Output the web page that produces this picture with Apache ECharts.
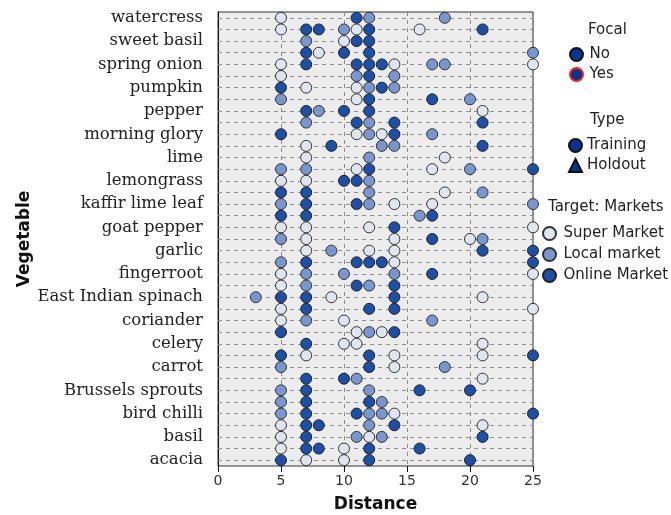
<!DOCTYPE html>
<html>
<head>
<meta charset="utf-8">
<script src="https://cdn.jsdelivr.net/npm/echarts@6/dist/echarts.min.js"></script>
<style>
  html, body { margin: 0; padding: 0; background: #fff; }
  #chart { width: 671px; height: 515px; }
</style>
</head>
<body>
<div id="chart"></div>
<script>
// labelled rows, top to bottom (every other row carries a label)
var labels = ["watercress", "sweet basil", "spring onion", "pumpkin", "pepper",
  "morning glory", "lime", "lemongrass", "kaffir lime leaf", "goat pepper",
  "garlic", "fingerroot", "East Indian spinach", "coriander", "celery",
  "carrot", "Brussels sprouts", "bird chilli", "basil", "acacia"];

// distances per row (row 0 = top), one list per market
var superRows = [
  [5], [5, 11, 16], [10], [8], [5, 14, 25], [5], [7, 11], [11], [21], [],
  [11, 13], [7], [7, 18], [11, 17], [5, 7], [18], [14, 17], [], [5, 7, 12, 25], [7, 14, 20],
  [7, 12, 14], [14], [5, 25], [5], [9, 21], [5, 25], [5, 10], [11, 13], [10, 11, 21], [7, 14, 21],
  [14], [21], [], [], [14], [5, 21], [5, 12], [5, 10], [7, 10]
];
var localRows = [
  [12, 18], [10], [7], [25], [17, 18], [11, 14], [12, 14], [5, 20], [8], [7, 12],
  [12, 17], [13, 14], [12], [5, 7, 20], [12], [12, 21], [5, 12, 25], [16], [], [5, 21],
  [9], [5], [7, 10, 14], [7, 12], [3], [], [7, 17], [12], [], [],
  [5, 18], [11], [5, 12], [5, 13], [5, 12, 13], [12], [11, 13], [], []
];
var onlineRows = [
  [11], [7, 8, 12, 21], [11, 12], [7, 10, 12], [7, 11, 12, 13], [12], [5, 13], [12, 17], [7, 10, 12], [11, 14, 21],
  [5, 14], [9, 21], [], [12, 25], [10, 11], [5, 7], [7, 11], [5, 7, 17], [14], [17],
  [21, 25], [7, 11, 12, 13, 25], [17], [11, 14], [5, 7, 14], [7, 12, 14], [], [5, 14], [7], [5, 12, 25],
  [12], [7, 10], [7, 16, 20], [7, 12], [7, 11, 25], [7, 8, 14], [7, 21], [7, 8, 12, 16], [5, 12, 20]
];

var xTicks = [0, 5, 10, 15, 20, 25];

var cats = [];
for (var i = 0; i < labels.length * 2 - 1; i++) {
  cats.push(i % 2 === 0 ? labels[i / 2] : "");
}

function toPoints(rows) {
  var out = [];
  rows.forEach(function (xs, r) {
    xs.forEach(function (x) { out.push([x, r]); });
  });
  return out;
}

var sans = "DejaVu Sans";
var navy = "#06348f";
var legendText = { fontFamily: sans, fontSize: 15, color: "#222" };
var titleText = { fontFamily: sans, fontSize: 15, fontWeight: "normal", color: "#222" };

var chart = echarts.init(document.getElementById("chart"));
chart.setOption({
  animation: false,
  backgroundColor: "#fff",
  grid: {
    left: 218, right: 138, top: 12, bottom: 49,
    containLabel: false, outerBoundsMode: "none",
    show: true, backgroundColor: "#ececec", borderColor: "#333", borderWidth: 1
  },
  title: [
    { text: "Focal", left: 583, top: 18, textStyle: titleText },
    { text: "Type", left: 585, top: 108, textStyle: titleText },
    { text: "Target: Markets", left: 543, top: 195, textStyle: titleText }
  ],
  legend: [
    {
      data: ["No", "Yes"], orient: "vertical", left: 569, top: 47, padding: 0, itemGap: 5,
      itemWidth: 16, itemHeight: 13, selectedMode: false, textStyle: legendText
    },
    {
      data: ["Training", { name: "Holdout", icon: "triangle" }], orient: "vertical", left: 568, top: 138, padding: 0, itemGap: 5,
      itemWidth: 13, itemHeight: 13, selectedMode: false, textStyle: legendText
    },
    {
      data: ["Super Market", "Local market", "Online Market"], orient: "vertical", left: 542, top: 226, padding: 0, itemGap: 6,
      itemWidth: 18, itemHeight: 13, selectedMode: false, icon: "circle", textStyle: legendText
    }
  ],
  xAxis: {
    type: "value", min: 0, max: 25, interval: 5,
    name: "Distance", nameLocation: "middle", nameGap: 30,
    nameTextStyle: { fontFamily: sans, fontSize: 17, fontWeight: "bold", color: "#111" },
    axisLine: { lineStyle: { color: "#111" } },
    axisTick: { show: true, length: 6, lineStyle: { color: "#111" } },
    axisLabel: { fontFamily: sans, fontSize: 14, color: "#333", margin: 8,
      formatter: function (v) { return xTicks.indexOf(v) >= 0 ? String(v) : ""; } },
    splitLine: { show: true, lineStyle: { color: "#8a8a8a", type: [4, 4] } }
  },
  yAxis: {
    type: "category", data: cats, inverse: true,
    name: "Vegetable", nameLocation: "middle", nameGap: 185, nameRotate: 90,
    nameTextStyle: { fontFamily: sans, fontSize: 17, fontWeight: "bold", color: "#111" },
    axisLine: { lineStyle: { color: "#111" } },
    axisTick: { interval: 1, alignWithLabel: true, length: 15, lineStyle: { color: "#111" } },
    axisLabel: { interval: 1, fontFamily: "DejaVu Serif", fontSize: 16.5, color: "#222", margin: 15 },
    splitLine: { show: false }
  },
  series: [
    {
      name: "Super Market", type: "scatter", symbolSize: 11, z: 3,
      itemStyle: { color: "#dfe6f2", borderColor: "#333", borderWidth: 1, opacity: 1 },
      data: toPoints(superRows),
      markLine: {
        silent: true, symbol: "none", z: 1, animation: false,
        label: { show: false },
        lineStyle: { color: "#8f8f8f", type: [4, 4], width: 1 },
        data: cats.map(function (c, i) { return { yAxis: i }; })
      }
    },
    {
      name: "Local market", type: "scatter", symbolSize: 11, z: 3,
      itemStyle: { color: "#7a96cf", borderColor: "#333", borderWidth: 1, opacity: 1 },
      data: toPoints(localRows)
    },
    {
      name: "Online Market", type: "scatter", symbolSize: 11, z: 3,
      itemStyle: { color: "#1d4fa6", borderColor: "#222", borderWidth: 1, opacity: 1 },
      data: toPoints(onlineRows)
    },
    { name: "No", type: "scatter", data: [], itemStyle: { color: navy, borderColor: "#111", borderWidth: 1, opacity: 1 } },
    { name: "Yes", type: "scatter", data: [], itemStyle: { color: navy, borderColor: "#ff1a1a", borderWidth: 2.5, opacity: 1 } },
    { name: "Training", type: "scatter", data: [], itemStyle: { color: navy, borderColor: "#111", borderWidth: 1, opacity: 1 } },
    { name: "Holdout", type: "scatter", symbol: "triangle", data: [], itemStyle: { color: navy, borderColor: "#111", borderWidth: 1, opacity: 1 } }
  ]
});
</script>
</body>
</html>
